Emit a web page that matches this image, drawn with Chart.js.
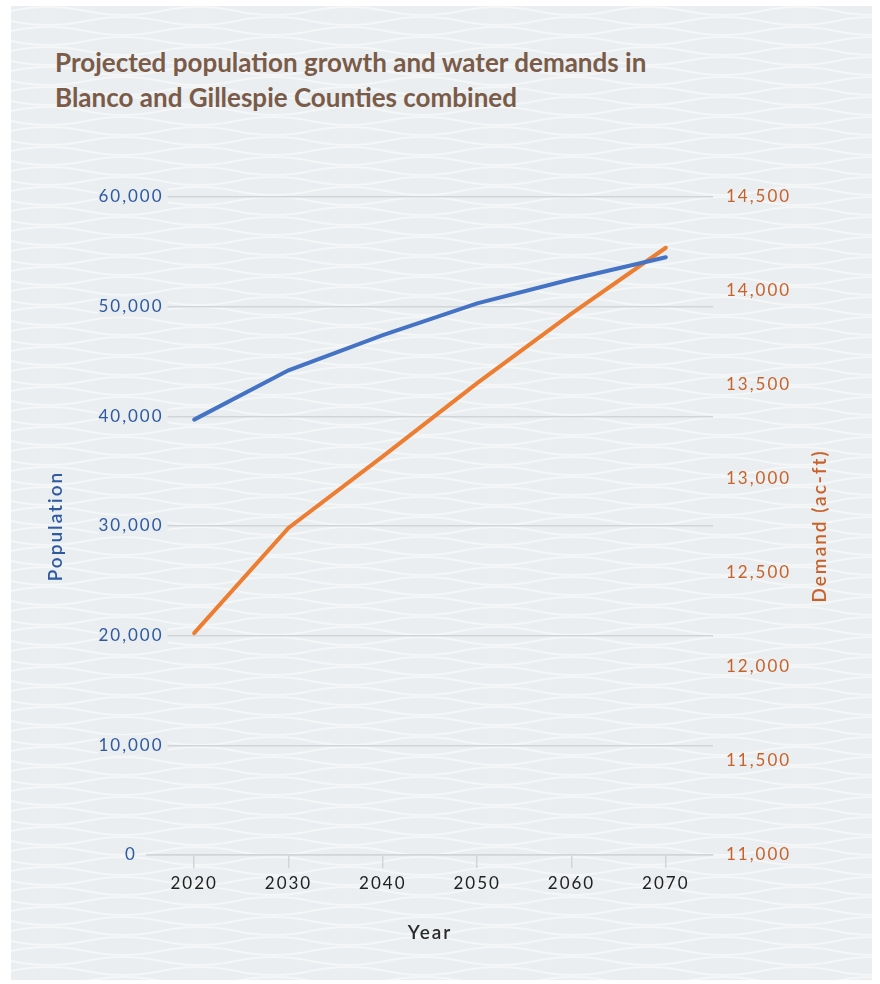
<!DOCTYPE html>
<html>
<head>
<meta charset="utf-8">
<script src="https://cdn.jsdelivr.net/npm/chart.js@4.4.1/dist/chart.umd.min.js"></script>
<style>
  body { margin: 0; background: #fff; }
  #panel {
    position: absolute; left: 11px; top: 6px; width: 861px; height: 974px;
    background-color: #eaeef0;
    background-image: url("data:image/svg+xml,%3Csvg xmlns='http://www.w3.org/2000/svg' width='150' height='20'%3E%3Cpath d='M0 5 Q37.5 -3 75 5 T150 5 M0 15 Q37.5 23 75 15 T150 15' stroke='%23f4f6f7' stroke-width='2' fill='none'/%3E%3C/svg%3E");
  }
  #title {
    position: absolute; left: 55px; top: 45px;
    font-family: Lato, sans-serif; font-weight: 700; font-size: 26px;
    line-height: 35px; color: #7a5b48;
  }
  #wrap { position: absolute; left: 0; top: 0; width: 880px; height: 984px; }
</style>
</head>
<body>
<div id="panel"></div>
<div id="title">Projected population growth and water demands in<br>Blanco and Gillespie Counties combined</div>
<div id="wrap"><canvas id="chart" width="880" height="984"></canvas></div>
<script>
const years = ['2020', '2030', '2040', '2050', '2060', '2070'];
const population = [39700, 44200, 47400, 50300, 52500, 54500];
const demand = [12180, 12740, 13120, 13510, 13880, 14230];

const GRID = '#d2d5d7';
const BLUE_TXT = '#2e5aa0';
const ORANGE_TXT = '#c8622a';
const SPACING = '2px';
const fmt = v => Number(v).toLocaleString('en-US');

// left labels are centred around x=131, partly over the plot area
const mc = document.createElement('canvas').getContext('2d');
mc.font = '17px Lato';
mc.letterSpacing = SPACING;
const widest = Math.max(...[0, 10000, 20000, 30000, 40000, 50000, 60000].map(v => mc.measureText(fmt(v)).width));

const wideText = {
    id: 'wideText',
    beforeLayout(chart) { chart.ctx.letterSpacing = SPACING; },
    beforeDraw(chart) { chart.ctx.letterSpacing = SPACING; }
};

const demandTitle = {
    id: 'demandTitle',
    afterDraw(chart) {
        const s = chart.scales.y1;
        const ctx = chart.ctx;
        ctx.save();
        ctx.translate(s.right - 15, (s.top + s.bottom) / 2);
        ctx.rotate(-Math.PI / 2);
        ctx.textAlign = 'center';
        ctx.textBaseline = 'middle';
        ctx.font = '600 19px Lato';
        ctx.fillStyle = ORANGE_TXT;
        ctx.fillText('Demand (ac-ft)', 0, 0);
        ctx.restore();
    }
};

new Chart(document.getElementById('chart'), {
    type: 'line',
    data: {
        labels: years,
        datasets: [
            {
                label: 'Population',
                data: population,
                yAxisID: 'y',
                borderColor: '#4472c4',
                borderWidth: 4,
                pointRadius: 0,
                borderCapStyle: 'round',
                tension: 0
            },
            {
                label: 'Demand (ac-ft)',
                data: demand,
                yAxisID: 'y1',
                borderColor: '#ed7d31',
                borderWidth: 4,
                pointRadius: 0,
                borderCapStyle: 'round',
                tension: 0
            }
        ]
    },
    plugins: [wideText, demandTitle],
    options: {
        responsive: false,
        animation: false,
        layout: { padding: { left: 40, right: 45, top: 197, bottom: 36 } },
        plugins: { legend: { display: false }, tooltip: { enabled: false } },
        scales: {
            x: {
                offset: true,
                grid: { drawOnChartArea: false, color: GRID, lineWidth: 1.5, tickLength: 13 },
                border: { color: GRID, width: 1.5 },
                ticks: { color: '#222', padding: 5, font: { family: 'Lato', size: 17 } },
                title: { display: true, text: 'Year', color: '#2b2b2b', font: { family: 'Lato', size: 19, weight: '600' } },
                afterFit: s => { s.height = 93; }
            },
            y: {
                position: 'left',
                min: 0, max: 60000,
                ticks: {
                    stepSize: 10000, color: BLUE_TXT, mirror: true, crossAlign: 'center',
                    padding: 131 - 147 - widest / 2,
                    font: { family: 'Lato', size: 17 }, callback: fmt,
                    showLabelBackdrop: ctx => ctx.index > 0,
                    backdropColor: '#eaeef0',
                    backdropPadding: { top: 0, bottom: 0, left: 0, right: 4 }
                },
                grid: { color: GRID, lineWidth: 1.5, drawTicks: false },
                border: { display: false },
                title: { display: true, text: 'Population', color: BLUE_TXT, font: { family: 'Lato', size: 19, weight: '600' } },
                afterFit: s => { s.width = 107; }
            },
            y1: {
                position: 'right',
                min: 11000, max: 14500,
                ticks: {
                    stepSize: 500, color: ORANGE_TXT, padding: 13,
                    font: { family: 'Lato', size: 17 }, callback: fmt
                },
                grid: { drawOnChartArea: false, drawTicks: false },
                border: { display: false },
                title: { display: false },
                afterFit: s => { s.width = 122; }
            }
        }
    }
});
</script>
</body>
</html>
